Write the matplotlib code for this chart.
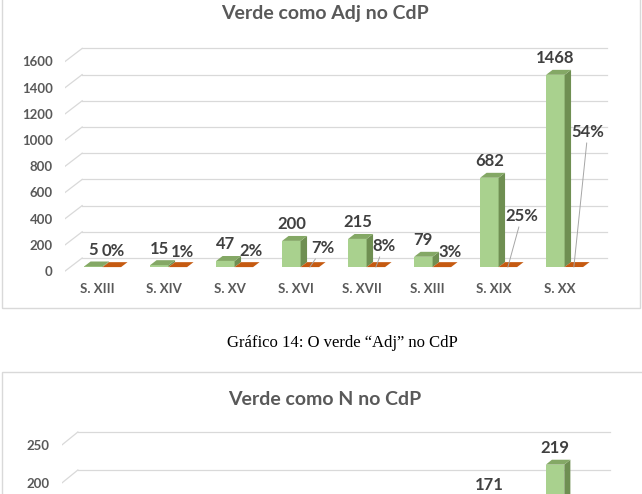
import numpy as np
import matplotlib.pyplot as plt
from matplotlib.patches import Rectangle

plt.rcParams['font.family'] = ['Lato', 'DejaVu Sans']

# data
categories = ["S. XIII", "S. XIV", "S. XV", "S. XVI", "S. XVII", "S. XIII", "S. XIX", "S. XX"]
adj_counts = [5, 15, 47, 200, 215, 79, 682, 1468]
adj_pct = [0, 1, 2, 7, 8, 3, 25, 54]
adj_ticks = [0, 200, 400, 600, 800, 1000, 1200, 1400, 1600]
# second chart is cut off by the page, only the two tallest bars and top gridlines show
n_counts = [np.nan, np.nan, np.nan, np.nan, np.nan, np.nan, 171, 219]
n_ticks = [200, 250]

# where the % labels sit relative to the flat bar (px, y down) and which get a leader line
pct_offsets = [(1, -16), (5, -15), (7, -16), (13, -19), (8, -21), (8, -15), (14, -51), (14, -135)]
pct_leader = [False, False, False, True, True, False, True, True]

W, H = 642, 494
GREEN, GREEN_SIDE, GREEN_TOP = '#a9d18e', '#6f8f52', '#84a865'
ORANGE = '#c55a11'
GRID = '#d9d9d9'
TXT = '#404040'
TICK = '#595959'
BW = 0.28          # bar width (category units)
D0, D1 = 0.3, 0.68  # bar front / back depth as fraction of the floor depth

fig = plt.figure(figsize=(W / 100, H / 100), dpi=100)


def make_axes(x0, xs, y0, ys, xlim, ylim):
    # x0,y0 = pixel of (0,0); xs,ys = px per data unit
    left, right = x0 + xs * xlim[0], x0 + xs * xlim[1]
    top, bottom = y0 - ys * ylim[1], y0 - ys * ylim[0]
    ax = fig.add_axes([left / W, 1 - bottom / H, (right - left) / W, (bottom - top) / H])
    ax.set_xlim(xlim)
    ax.set_ylim(ylim)
    for s in ax.spines.values():
        s.set_visible(False)
    ax.tick_params(length=0, colors=TICK)
    return ax


def draw_grid(ax, ticks, xf, dX, dV):
    for t in ticks:
        ax.plot([xf[0], xf[0] + dX], [t, t + dV], color=GRID, lw=0.9, zorder=1)
        ax.plot([xf[0] + dX, xf[1] + dX], [t + dV, t + dV], color=GRID, lw=0.9, zorder=1)


def draw_bar(ax, xl, h, dX, dV, front, side, top, z):
    bx, bv = xl + D0 * dX, D0 * dV
    ddx, ddv = (D1 - D0) * dX, (D1 - D0) * dV
    ax.bar(bx, h, width=BW, bottom=bv, align='edge', color=front, lw=0, zorder=z)
    ax.fill([bx + BW, bx + BW + ddx, bx + BW + ddx, bx + BW],
            [bv, bv + ddv, bv + h + ddv, bv + h], color=side, lw=0, zorder=z)
    ax.fill([bx, bx + BW, bx + BW + ddx, bx + ddx],
            [bv + h, bv + h, bv + h + ddv, bv + h + ddv], color=top, lw=0, zorder=z)


# ---- chart 1 ----
xs1, ys1 = 66, 26.2 / 200
ax1 = make_axes(97.5, xs1, 271, ys1, (-0.49, 7.9), (-76, 1750))
dX1, dV1 = 17 / xs1, 13 / ys1
draw_grid(ax1, adj_ticks, (-0.49, 7.46), dX1, dV1)
ax1.set_yticks(adj_ticks)
ax1.set_yticklabels([str(t) for t in adj_ticks], fontweight='bold', fontsize=9.5)
ax1.set_xticks(range(len(categories)))
ax1.set_xticklabels(categories, fontweight='bold', fontsize=9.5)
ax1.tick_params(axis='y', pad=9)
ax1.tick_params(axis='x', pad=1.5)

for i, (c, p) in enumerate(zip(adj_counts, adj_pct)):
    draw_bar(ax1, i - BW, c, dX1, dV1, GREEN, GREEN_SIDE, GREEN_TOP, 3)
    draw_bar(ax1, i, p / 100, dX1, dV1, ORANGE, ORANGE, ORANGE, 4)
    ax1.annotate(str(c), xy=(i - BW / 2 + D0 * dX1, c + D0 * dV1), xytext=(0, 16.5 * 0.72),
                 textcoords='offset points', ha='center', va='center',
                 fontsize=12, fontweight='bold', color=TXT, zorder=6)
    ox, oy = pct_offsets[i]
    arrow = dict(arrowstyle='-', color='#a6a6a6', lw=0.7, shrinkA=0, shrinkB=0) if pct_leader[i] else None
    ax1.annotate(f"{p}%", xy=(i + BW / 2 + D0 * dX1, D0 * dV1), xytext=(ox * 0.72, -oy * 0.72),
                 textcoords='offset points', ha='center', va='center',
                 fontsize=12, fontweight='bold', color=TXT, arrowprops=arrow, zorder=6)

# ---- chart 2 (cropped at the bottom of the page) ----
xs2, ys2 = 66, 0.76
ax2 = make_axes(97.5, xs2, 635, ys2, (-0.54, 7.9), (-40, 300))
dX2, dV2 = 16 / xs2, 13 / ys2
draw_grid(ax2, n_ticks, (-0.54, 7.52), dX2, dV2)
ax2.set_yticks(n_ticks)
ax2.set_yticklabels([str(t) for t in n_ticks], fontweight='bold', fontsize=9.5)
ax2.tick_params(axis='y', pad=9)
ax2.set_xticks([])
for i, c in enumerate(n_counts):
    if np.isnan(c):
        continue
    draw_bar(ax2, i - BW, c, dX2, dV2, GREEN, GREEN_SIDE, GREEN_TOP, 3)
    ax2.annotate(str(int(c)), xy=(i - BW / 2 + D0 * dX2, c + D0 * dV2), xytext=(0, 16.5 * 0.72),
                 textcoords='offset points', ha='center', va='center',
                 fontsize=12, fontweight='bold', color=TXT, zorder=6)

# ---- page furniture: chart frames, titles, caption ----
fig.patches.append(Rectangle((2 / W, 1 - 308 / H), 638 / W, 320 / H, transform=fig.transFigure,
                             fill=False, ec=GRID, lw=1))
fig.patches.append(Rectangle((2 / W, -0.05), 660 / W, 1 - 372 / H + 0.05, transform=fig.transFigure,
                             fill=False, ec=GRID, lw=1))
fig.text(325 / W, 1 - 14 / H, "Verde como Adj no CdP", ha='center', va='center',
         fontsize=14, fontweight='bold', color=TICK)
fig.text(325 / W, 1 - 399 / H, "Verde como N no CdP", ha='center', va='center',
         fontsize=14, fontweight='bold', color=TICK)
fig.text(342 / W, 1 - 343 / H, "Gráfico 14: O verde \u201cAdj\u201d no CdP", ha='center', va='center',
         fontsize=12, family='Liberation Serif', color='black')

fig.savefig('out.png', dpi=100)
